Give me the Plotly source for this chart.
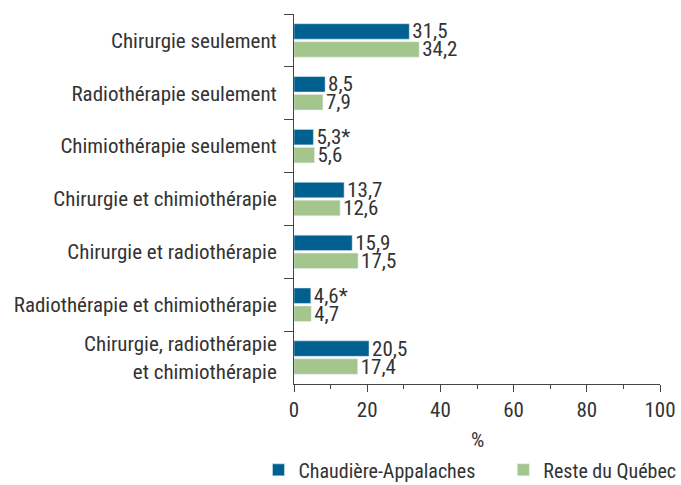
import plotly.graph_objects as go

categories = [
    "Chirurgie seulement",
    "Radiothérapie seulement",
    "Chimiothérapie seulement",
    "Chirurgie et chimiothérapie",
    "Chirurgie et radiothérapie",
    "Radiothérapie et chimiothérapie",
    "Chirurgie, radiothérapie<br>et chimiothérapie",
]
chaudiere = [31.5, 8.5, 5.3, 13.7, 15.9, 4.6, 20.5]
chaudiere_flag = ["", "", "*", "", "", "*", ""]
reste = [34.2, 7.9, 5.6, 12.6, 17.5, 4.7, 17.4]
reste_flag = ["", "", "", "", "", "", ""]
x_ticks = [0, 20, 40, 60, 80, 100]

FONT = "Liberation Sans Narrow, Roboto Condensed, Arial Narrow, sans-serif"
TXT = "#333333"
FS = 21
LFS = 20


def fmt(vals, flags):
    return [f"{v:.1f}".replace(".", ",") + f for v, f in zip(vals, flags)]


fig = go.Figure()
fig.add_trace(go.Bar(
    y=categories, x=chaudiere, orientation="h", name="Chaudière-Appalaches",
    marker_color="#00608f", text=fmt(chaudiere, chaudiere_flag),
    textposition="outside", constraintext="none", cliponaxis=False,
    textfont=dict(size=FS, color=TXT, family=FONT), legend="legend",
))
fig.add_trace(go.Bar(
    y=categories, x=reste, orientation="h", name="Reste du Québec",
    marker_color="#a4c68c", text=fmt(reste, reste_flag),
    textposition="outside", constraintext="none", cliponaxis=False,
    textfont=dict(size=FS, color=TXT, family=FONT), legend="legend2",
))

# plot area: 294..660 px across, 14..384 px down
fig.add_annotation(text="%", xref="paper", yref="paper", x=0.5, y=-0.151,
                   xanchor="center", yanchor="middle", showarrow=False,
                   font=dict(size=FS, color=TXT, family=FONT))

legend_common = dict(orientation="h", xref="paper", yref="paper",
                     xanchor="left", y=-0.232, yanchor="middle",
                     font=dict(size=LFS, color=TXT), itemwidth=30,
                     bgcolor="rgba(0,0,0,0)")

fig.update_layout(
    width=681, height=485,
    margin=dict(l=294, r=21, t=14, b=101, autoexpand=False),
    barmode="group", bargap=0.32, bargroupgap=0.14,
    plot_bgcolor="white", paper_bgcolor="white",
    font=dict(family=FONT, size=FS, color=TXT),
    showlegend=True,
    legend=dict(x=-0.097, **legend_common),
    legend2=dict(x=0.572, **legend_common),
    xaxis=dict(range=[0, 100], tickvals=x_ticks, showgrid=False, zeroline=False,
               automargin=False,
               showline=True, linecolor="#444", linewidth=1,
               ticks="outside", ticklen=7, tickcolor="#444",
               minor=dict(dtick=10, ticks="outside", ticklen=4, tickcolor="#444"),
               tickfont=dict(size=FS, color=TXT)),
    yaxis=dict(autorange="reversed", showgrid=False, showline=True,
               automargin=False,
               linecolor="#444", linewidth=1, ticks="outside", ticklen=9,
               tickcolor="#444", tickson="boundaries", ticklabelstandoff=12,
               tickfont=dict(size=FS, color=TXT)),
)

fig.write_html(
    "out.html",
    config={"displayModeBar": False},
    post_script="document.body.style.margin='0';document.body.style.overflow='hidden';",
)
